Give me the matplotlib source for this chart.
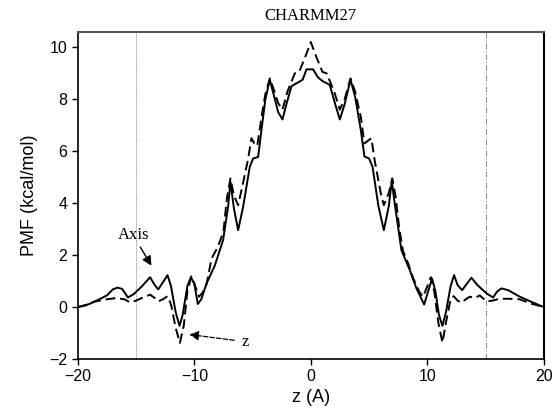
import numpy as np
import matplotlib
matplotlib.use("Agg")
import matplotlib.pyplot as plt

# PMF along the channel
z_axis = [-20, -19, -18.3, -17.5, -17.0, -16.6, -16.2, -15.7, -15.2, -14.5, -13.8, -13.4,
          -13.1, -12.7, -12.3, -12.0, -11.6, -11.27, -11.0, -10.6, -10.3, -10.0, -9.7, -9.4,
          -8.95, -8.24, -7.53, -7.1, -6.9, -6.6, -6.24, -5.81, -5.24, -4.95, -4.52, -4.24,
          -3.9, -3.52, -3.2, -2.8, -2.43, -2.1, -1.66, -1.2, -0.7, -0.37, 0.2, 0.6, 1.0,
          1.63, 2.1, 2.49, 2.9, 3.41, 3.8, 4.3, 4.6, 5.0, 5.3, 5.8, 6.27, 6.7, 6.95, 7.2,
          7.78, 8.5, 9.07, 9.73, 10.0, 10.41, 10.7, 11.0, 11.3, 11.6, 12.0, 12.3, 12.6,
          12.99, 13.4, 13.79, 14.3, 15.08, 15.65, 16.0, 16.37, 16.95, 17.94, 18.95, 20]
pmf_axis = [0, 0.12, 0.27, 0.45, 0.68, 0.75, 0.7, 0.37, 0.5, 0.8, 1.15, 0.85,
            0.68, 0.95, 1.23, 0.8, -0.2, -0.72, -0.3, 0.8, 1.15, 0.9, 0.12, 0.3,
            0.91, 1.6, 2.58, 3.86, 4.82, 3.8, 2.96, 3.86, 5.4, 5.72, 5.78, 6.8,
            8.0, 8.75, 8.2, 7.5, 7.22, 7.8, 8.5, 8.62, 8.75, 9.15, 9.15, 8.85, 8.7,
            8.55, 7.8, 7.22, 7.8, 8.75, 8.1, 6.8, 5.8, 5.72, 5.4, 3.9, 2.96, 3.9, 4.85, 4.0,
            2.19, 1.42, 0.72, 0.1, 0.5, 1.1, 0.6, -0.3, -0.72, -0.2, 0.8, 1.23, 0.85,
            0.65, 0.9, 1.13, 0.85, 0.53, 0.37, 0.6, 0.72, 0.65, 0.4, 0.2, 0]

z_z = [-20, -19, -18.7, -17.5, -16.7, -16.0, -15.5, -15.0, -14.5, -13.8, -13.4, -13.1,
       -12.7, -12.3, -12.0, -11.6, -11.24, -10.9, -10.6, -10.25, -10.0, -9.6, -9.3, -8.95,
       -8.52, -8.0, -7.5, -7.2, -6.9, -6.6, -6.24, -5.9, -5.38, -5.1, -4.85, -4.6, -4.2,
       -3.9, -3.52, -3.2, -2.8, -2.43, -2.0, -1.37, -1.0, -0.5, 0.0, 0.5, 1.0, 1.35, 2.0,
       2.49, 2.9, 3.41, 3.8, 4.3, 4.6, 4.9, 5.2, 5.5, 6.0, 6.27, 6.7, 7.0, 7.3, 7.6, 7.92,
       8.3, 8.8, 9.3, 9.64, 10.0, 10.3, 10.6, 10.95, 11.3, 11.6, 12.0, 12.27, 12.6, 12.93,
       13.3, 13.65, 14.1, 14.5, 15.08, 15.6, 16.2, 17.0, 17.94, 18.95, 20]
pmf_z = [0, 0.1, 0.2, 0.3, 0.35, 0.3, 0.18, 0.25, 0.35, 0.48, 0.35, 0.22,
         0.3, 0.42, 0.1, -0.8, -1.38, -0.7, 0.6, 1.18, 0.9, 0.4, 0.55, 0.88,
         1.87, 2.3, 2.9, 4.2, 4.95, 4.3, 3.92, 4.6, 5.7, 6.5, 6.3, 6.2, 7.4,
         8.2, 8.8, 8.4, 7.85, 7.6, 8.3, 9.0, 9.05, 9.6, 10.2, 9.6, 9.05, 9.0, 8.3,
         7.6, 8.0, 8.8, 8.3, 7.3, 6.3, 6.4, 6.5, 5.6, 4.4, 3.92, 4.4, 4.95, 4.2, 3.0, 2.15,
         1.75, 1.1, 0.6, 0.4, 0.8, 1.15, 0.6, -0.6, -1.37, -0.6, 0.3, 0.42, 0.25, 0.17,
         0.3, 0.4, 0.35, 0.45, 0.22, 0.25, 0.32, 0.32, 0.3, 0.13, 0]

x_ticks = [-20, -10, 0, 10, 20]
y_ticks = [-2, 0, 2, 4, 6, 8, 10]
bounds = [-15, 15]

fig = plt.figure(figsize=(5.56, 4.18), dpi=100)
ax = fig.add_axes([0.140, 0.141, 0.838, 0.782])

ax.axvline(bounds[0], color="#888888", lw=0.7, ls=(0, (1, 1)))
ax.axvline(bounds[1], color="#888888", lw=0.7, ls=(0, (6, 2, 1, 2)))

ax.plot(z_axis, pmf_axis, color="black", lw=1.4, solid_joinstyle="round")
ax.plot(z_z, pmf_z, color="black", lw=1.4, ls=(0, (5, 2.5)), dash_joinstyle="round")

ax.set_xlim(-20, 20)
ax.set_ylim(-2, 10.58)
ax.set_xticks(x_ticks)
ax.set_yticks(y_ticks)
ax.tick_params(direction="out", length=4, width=1, labelsize=11.5, top=False, right=False)
for lab in ax.get_xticklabels() + ax.get_yticklabels():
    lab.set_family("Liberation Sans")

for side in ["left", "bottom"]:
    ax.spines[side].set_linewidth(1.2)
    ax.spines[side].set_color("black")
ax.spines["top"].set_color("#555555")
ax.spines["top"].set_linewidth(1.5)
ax.spines["right"].set_color("black")
ax.spines["right"].set_linewidth(1.5)

ax.set_xlabel("z (A)", family="Liberation Sans", fontsize=13, labelpad=3)
ax.set_ylabel("PMF (kcal/mol)", family="Liberation Sans", fontsize=13, labelpad=8)
ax.set_title("CHARMM27", family="Liberation Serif", fontsize=12, pad=9)

ax.annotate("Axis", xy=(-13.56, 1.5), xytext=(-15.25, 2.77),
            family="Liberation Serif", fontsize=12, ha="center", va="center",
            arrowprops=dict(arrowstyle="-|>", color="black", lw=1, shrinkA=1,
                            mutation_scale=14))
ax.annotate("z", xy=(-10.67, -1.04), xytext=(-5.67, -1.33),
            family="Liberation Serif", fontsize=12, ha="center", va="center",
            arrowprops=dict(arrowstyle="-|>", color="black", lw=0.9, ls="--",
                            shrinkA=3, mutation_scale=14))

fig.savefig("out.png", dpi=100)
